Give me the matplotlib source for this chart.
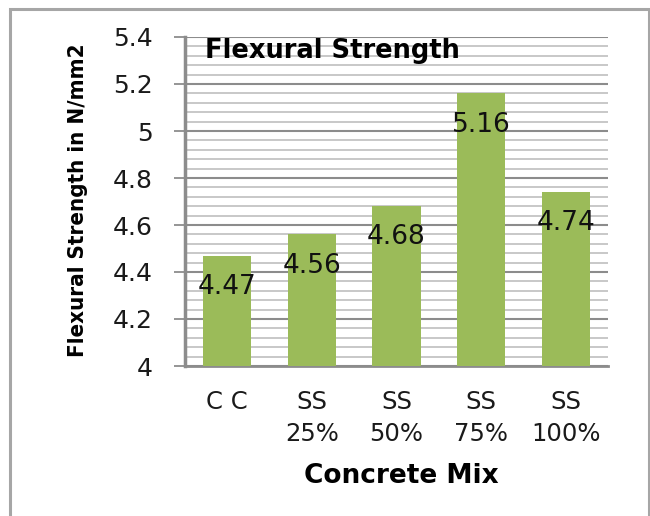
import matplotlib
matplotlib.use("Agg")
import matplotlib.pyplot as plt
from matplotlib.ticker import MultipleLocator, FuncFormatter
from matplotlib.patches import Rectangle

categories = ["C C", "SS\n25%", "SS\n50%", "SS\n75%", "SS\n100%"]
values = [4.47, 4.56, 4.68, 5.16, 4.74]
value_labels = ["4.47", "4.56", "4.68", "5.16", "4.74"]

W, H = 650, 516
fig = plt.figure(figsize=(W / 100, H / 100), dpi=100)
fig.patch.set_facecolor("white")

# outer chart border
fig.patches.append(Rectangle((10 / W, -0.02), (649 - 10) / W, (516 - 9) / H + 0.02,
                             transform=fig.transFigure, fill=False,
                             edgecolor="#a6a6a6", linewidth=2.2, zorder=0))

ax = fig.add_axes([185 / W, (H - 366) / H, (608 - 185) / W, (366 - 37) / H])
x = range(len(categories))
bars = ax.bar(x, values, width=0.57, color="#9BBB59", zorder=3)

ax.set_ylim(4.0, 5.4)
ax.set_xlim(-0.5, len(categories) - 0.5)
ax.yaxis.set_major_locator(MultipleLocator(0.2))
ax.yaxis.set_minor_locator(MultipleLocator(0.04))
ax.yaxis.set_major_formatter(FuncFormatter(lambda v, p: f"{v:.1f}".rstrip("0").rstrip(".")))

ax.grid(axis="y", which="minor", color="#c4c4c4", linewidth=1.3, zorder=0)
ax.grid(axis="y", which="major", color="#8c8c8c", linewidth=1.5, zorder=1)
ax.set_axisbelow(True)

for s in ["top", "right"]:
    ax.spines[s].set_visible(False)
ax.spines["left"].set_color("#8c8c8c")
ax.spines["left"].set_linewidth(2.5)
ax.spines["bottom"].set_color("#8c8c8c")
ax.spines["bottom"].set_linewidth(2)

ax.tick_params(axis="y", which="major", length=8, width=1.3, color="#8c8c8c",
               labelsize=18, pad=15, labelcolor="#1a1a1a")
ax.tick_params(axis="y", which="minor", length=0)
ax.tick_params(axis="x", length=0, labelsize=17.5, pad=17, labelcolor="#1a1a1a")
ax.set_xticks(list(x))
ax.set_xticklabels(categories, linespacing=1.45)

for b, lab in zip(bars, value_labels):
    ax.annotate(lab, (b.get_x() + b.get_width() / 2, b.get_height()),
                xytext=(0, -22.5), textcoords="offset points",
                ha="center", va="center", fontsize=19, color="#111111", zorder=5)

ax.text(20 / 423, 0.998, "Flexural Strength", transform=ax.transAxes,
        ha="left", va="top", fontsize=18.5, fontweight="bold", color="black", zorder=6)

ax.set_xlabel("Concrete Mix", fontsize=19, fontweight="bold", labelpad=12,
              fontstretch="normal", family="DejaVu Sans")
ax.xaxis.label.set_x((401 - 185) / 423)
fig.text(78 / W, 1 - 200 / H, "Flexural Strength in N/mm2", rotation=90,
         ha="center", va="center", fontsize=16, fontweight="bold",
         family="DejaVu Sans", fontstretch="condensed")

fig.savefig("out.png", dpi=100, facecolor="white")
